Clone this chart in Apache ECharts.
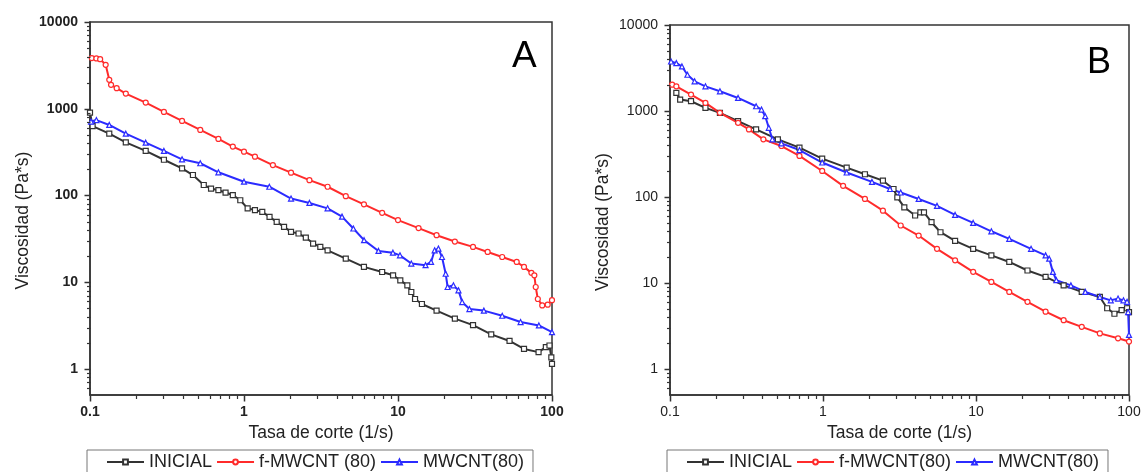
<!DOCTYPE html>
<html><head><meta charset="utf-8">
<script src="https://cdn.jsdelivr.net/npm/echarts@6/dist/echarts.min.js"></script>
<style>html,body{margin:0;padding:0;background:#fff}#c{width:1145px;height:472px}</style>
</head><body><div id="c"></div>
<script>
// ---------- Data ----------
const xTickLabels = [0.1, 1, 10, 100];
const yTickLabels = [1, 10, 100, 1000, 10000];
const xMinorTicks = [0.2,0.3,0.4,0.5,0.6,0.7,0.8,0.9,2,3,4,5,6,7,8,9,20,30,40,50,60,70,80,90];
const yMinorTicks = [0.6,0.7,0.8,0.9,2,3,4,5,6,7,8,9,20,30,40,50,60,70,80,90,200,300,400,500,600,700,800,900,2000,3000,4000,5000,6000,7000,8000,9000];

// Panel A
const xA_ini = [0.1,0.104,0.1334,0.1708,0.230,0.302,0.396,0.466,0.548,0.611,0.682,0.759,0.846,0.946,1.056,1.178,1.314,1.465,1.63,1.82,2.02,2.26,2.52,2.81,3.13,3.49,4.58,6.01,7.89,9.29,10.35,11.5,12.2,12.9,14.3,17.8,23.4,30.7,40.3,53.0,65.8,81.8,91.2,96.3,99,100];
const yA_ini = [900,630,516,410,326,258,205,172,132,120,115,108,101,88,71,67.7,64.7,56.6,49.6,43.4,38,36.4,32.7,27.9,25.5,23.3,18.7,15,13.1,12,10.5,9.2,7.7,6.4,5.6,4.7,3.8,3.2,2.5,2.1,1.7,1.56,1.78,1.86,1.36,1.14];
const xA_f = [0.1027,0.110,0.1164,0.1264,0.1334,0.137,0.149,0.1708,0.23,0.302,0.396,0.52,0.682,0.846,1.0,1.178,1.54,2.02,2.66,3.49,4.58,6.01,7.89,10.0,13.6,17.8,23.4,30.7,38.2,47.5,59,65.8,73.5,76.8,78.4,80.9,86.4,93.8,100];
const yA_f = [3835,3800,3730,3210,2155,1887,1726,1496,1178,918,723,569,448,366,320,280,224,183,150,126,98,79,63,52,42,34.8,29.4,25.5,22.3,19.5,17.1,15,12.8,12,8.8,6.4,5.4,5.5,6.2];
const xA_m = [0.1016,0.110,0.1334,0.1708,0.23,0.302,0.396,0.52,0.682,1.0,1.46,2.02,2.66,3.49,4.33,5.13,6.02,7.47,9.27,10.3,12.2,15.1,16.4,17.3,18.3,19.3,20.4,21.0,22.9,24.7,26.1,29.1,36.1,47.5,62.5,82.2,100];
const yA_m = [711,740,650,516,406,326,261,235,185,144,126,92,82,71,57,41.6,30.5,22.9,21.9,20.4,16.4,15.7,17.1,23.3,24.4,19.5,12.5,8.8,9.2,8.05,5.9,4.9,4.7,4.1,3.47,3.17,2.65];

// Panel B
const xB_ini = [0.110,0.1165,0.1372,0.1705,0.212,0.2786,0.3654,0.5071,0.7018,0.9878,1.428,1.88,2.464,2.89,3.06,3.40,4.00,4.33,4.57,5.12,5.86,7.30,9.58,12.6,16.5,21.7,28.5,37.4,49.1,64.5,72,80.3,89.5,97.1,100];
const yB_ini = [1622,1358,1300,1088,953,763,611,469,375,280,220,184,155,124,99,76,61,66.5,66.5,51,39,31,25,21,17.6,14,11.8,9.4,7.9,6.9,5.1,4.4,4.85,5.1,4.6];
const xB_f = [0.1033,0.110,0.1372,0.1705,0.212,0.2786,0.328,0.4076,0.535,0.7018,0.9878,1.353,1.88,2.464,3.22,4.22,5.56,7.30,9.58,12.6,16.5,21.7,28.5,37.4,49.1,64.5,84.8,100];
const yB_f = [2023,1937,1552,1242,953,730,611,469,392,301,201,135,95,69.5,46.7,35.7,25,18.4,13.5,10.3,7.9,6.05,4.65,3.7,3.1,2.6,2.28,2.09];
const xB_m = [0.1016,0.110,0.1197,0.130,0.1448,0.1705,0.212,0.2786,0.3654,0.3963,0.4192,0.4423,0.4667,0.535,0.7018,0.9878,1.428,2.09,2.74,3.22,4.22,5.56,7.30,9.58,12.6,16.5,22.9,28.5,30.1,31.8,33.5,41.7,51.8,64.5,76,84.8,92,97.1,98.7,100];
const yB_m = [3767,3606,3296,2642,2213,1937,1695,1419,1137,1040,871,638,469,421,352,252,193,150,124,113,95,79,62,50,40,32.7,25,21,19.2,13.5,10.8,9.4,7.9,6.9,6.3,6.6,6.3,6.05,4.6,2.5];

const namesA = ['INICIAL', 'f-MWCNT (80)', 'MWCNT(80)'];
const namesB = ['INICIAL', 'f-MWCNT(80)', 'MWCNT(80)'];

// ---------- Styling ----------
const FONT = 'Liberation Sans, Arial, sans-serif';
const COL = ['#333333', '#ff2b2b', '#2b2bff'];
const SYM = ['rect', 'circle', 'triangle'];
const AXC = '#333';
const X_MIN = 0.1, X_MAX = 100, Y_MIN = 0.5, Y_MAX = 10000;

function pairs(xs, ys) { return xs.map((x, i) => [x, ys[i]]); }

function mainX(gi, bold) {
  return {
    type: 'log', logBase: 10, gridIndex: gi, min: X_MIN, max: X_MAX, position: 'bottom',
    axisLine: { show: true, lineStyle: { color: AXC, width: 1.5 } },
    axisTick: { show: false }, minorTick: { show: false },
    axisLabel: { customValues: xTickLabels, formatter: v => String(+v.toPrecision(6)), fontSize: 14, fontFamily: FONT,
      fontWeight: bold ? 'bold' : 'normal', color: '#222', margin: 10 },
    splitLine: { show: false },
    name: 'Tasa de corte (1/s)', nameLocation: 'middle', nameGap: 26,
    nameTextStyle: { fontSize: 17.5, fontFamily: FONT, color: '#222' }
  };
}
function mainY(gi, bold) {
  return {
    type: 'log', logBase: 10, gridIndex: gi, min: Y_MIN, max: Y_MAX, position: 'left',
    axisLine: { show: true, lineStyle: { color: AXC, width: 1.5 } },
    axisTick: { show: false }, minorTick: { show: false },
    axisLabel: { customValues: yTickLabels, formatter: v => String(+v.toPrecision(6)), fontSize: 14, fontFamily: FONT,
      fontWeight: bold ? 'bold' : 'normal', color: '#222', margin: 12 },
    splitLine: { show: false },
    name: 'Viscosidad (Pa*s)', nameLocation: 'middle', nameGap: 58,
    nameTextStyle: { fontSize: 17.5, fontFamily: FONT, color: '#222', padding: [0, 24, 0, 0] }
  };
}
// Axis ticks drawn through the axes' own scales (api.coord)
function tickSeries(axi) {
  const data = []
    .concat(xTickLabels.map(v => [v, Y_MIN, 0, 6, 1.5]))
    .concat(xMinorTicks.map(v => [v, Y_MIN, 0, 3.5, 1.2]))
    .concat(yTickLabels.map(v => [X_MIN, v, -6, 0, 1.5]))
    .concat(yMinorTicks.map(v => [X_MIN, v, -3.5, 0, 1.2]));
  return {
    type: 'custom', xAxisIndex: axi, yAxisIndex: axi, data: data, clip: false, silent: true, z: 5,
    encode: { x: 0, y: 1 },
    renderItem: (params, api) => {
      const p = api.coord([api.value(0), api.value(1)]);
      const x = Math.round(p[0]) + 0.5, y = Math.round(p[1]) + 0.5;
      return { type: 'line', shape: { x1: x, y1: y, x2: x + api.value(2), y2: y + api.value(3) },
               style: { stroke: AXC, lineWidth: api.value(4) } };
    }
  };
}
function ser(name, k, xs, ys, axi) {
  return {
    type: 'line', name: name, xAxisIndex: axi, yAxisIndex: axi, data: pairs(xs, ys),
    symbol: SYM[k], symbolSize: 5, showSymbol: true, showAllSymbol: true,
    itemStyle: { color: '#fff', borderColor: COL[k], borderWidth: 1.2 },
    lineStyle: { color: COL[k], width: 2 },
    emphasis: { disabled: true }, z: 3
  };
}
function legend(left, names) {
  return {
    data: names, left: left, top: 450, orient: 'horizontal',
    itemWidth: 37, itemHeight: 6, itemGap: 4,
    padding: [3, 9, 3, 19], borderColor: '#777', borderWidth: 1,
    textStyle: { fontSize: 18, fontFamily: FONT, color: '#222' },
    selectedMode: false
  };
}

const chart = echarts.init(document.getElementById('c'), null, { renderer: 'canvas' });
chart.setOption({
  animation: false,
  backgroundColor: '#fff',
  grid: [
    { left: 90, top: 22, width: 462, height: 373, show: true, borderColor: AXC, borderWidth: 1.5, backgroundColor: 'transparent' },
    { left: 670, top: 25, width: 459, height: 370, show: true, borderColor: AXC, borderWidth: 1.5, backgroundColor: 'transparent' }
  ],
  xAxis: [mainX(0, true), mainX(1, false)],
  yAxis: [mainY(0, true), mainY(1, false)],
  legend: [legend(87, namesA), legend(667, namesB)],
  series: [
    ser(namesA[0], 0, xA_ini, yA_ini, 0),
    ser(namesA[1], 1, xA_f, yA_f, 0),
    ser(namesA[2], 2, xA_m, yA_m, 0),
    ser(namesB[0], 0, xB_ini, yB_ini, 1),
    ser(namesB[1], 1, xB_f, yB_f, 1),
    ser(namesB[2], 2, xB_m, yB_m, 1),
    tickSeries(0),
    tickSeries(1)
  ],
  graphic: [
    { type: 'text', left: 512, top: 38, style: { text: 'A', fontSize: 37, fontFamily: FONT, fill: '#000' } },
    { type: 'text', left: 1087, top: 45, style: { text: 'B', fontSize: 36, fontFamily: FONT, fill: '#000' } }
  ]
});
</script>
</body></html>
